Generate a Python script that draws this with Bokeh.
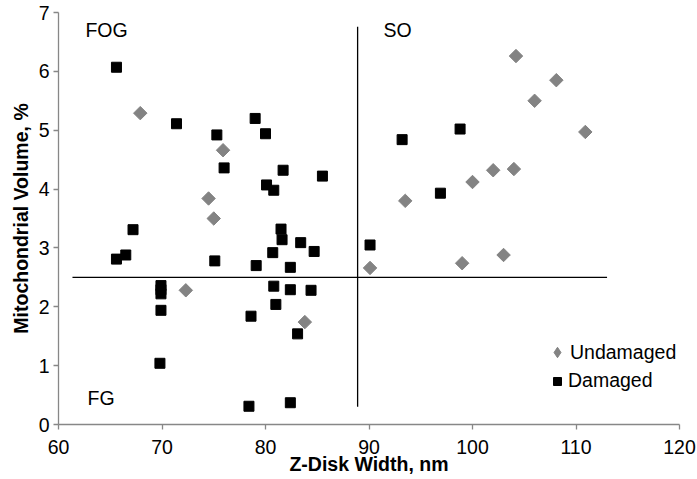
import numpy as np
from bokeh.plotting import figure
from bokeh.models import Range1d, Legend, LegendItem, FixedTicker
from bokeh.embed import file_html
from bokeh.resources import INLINE
from bokeh.core.properties import value

# ---- data ----
x_ticks = [60, 70, 80, 90, 100, 110, 120]
y_ticks = [0, 1, 2, 3, 4, 5, 6, 7]

dam_x = [65.6, 71.4, 75.3, 76.0, 79.0, 80.0, 81.7, 80.1, 80.8, 85.5, 67.2, 81.5, 81.6,
         83.4, 84.7, 80.7, 82.4, 79.1, 75.1, 65.6, 66.5, 69.9, 69.9, 69.9, 69.9, 69.8,
         80.8, 82.4, 84.4, 81.0, 78.6, 83.1, 78.4, 82.4, 93.2, 98.8, 96.9, 90.1]
dam_y = [6.07, 5.11, 4.92, 4.36, 5.20, 4.94, 4.32, 4.07, 3.98, 4.22, 3.31, 3.32, 3.14,
         3.09, 2.94, 2.92, 2.67, 2.70, 2.78, 2.81, 2.88, 2.36, 2.29, 2.22, 1.94, 1.04,
         2.35, 2.29, 2.28, 2.04, 1.84, 1.54, 0.31, 0.37, 4.84, 5.02, 3.93, 3.05]

und_x = [67.9, 75.9, 74.5, 75.0, 72.3, 83.8, 104.2, 108.1, 106.0, 110.9, 102.0, 104.0,
         100.0, 93.5, 90.1, 99.0, 103.0]
und_y = [5.29, 4.66, 3.84, 3.50, 2.28, 1.74, 6.26, 5.85, 5.50, 4.97, 4.32, 4.34,
         4.12, 3.80, 2.66, 2.74, 2.88]

# quadrant divider lines
vline_x = [88.9, 88.9]
vline_y = [0.3, 6.76]
hline_x = [61.35, 113.0]
hline_y = [2.5, 2.5]

# quadrant labels
quad_text = ["FOG", "SO", "FG"]
quad_x = [62.6, 91.4, 62.8]
quad_y = [6.70, 6.70, 0.45]

FONT = "Liberation Sans"
AXIS_GRAY = "#878787"
UND_GRAY = "#838383"

p = figure(width=697, height=479, output_backend="svg", toolbar_location=None,
           x_range=Range1d(60, 120), y_range=Range1d(0, 7),
           min_border_top=12, min_border_bottom=55, min_border_left=58, min_border_right=18)

p.outline_line_color = None
p.xgrid.visible = False
p.ygrid.visible = False
p.background_fill_color = "white"

p.xaxis.ticker = FixedTicker(ticks=x_ticks)
p.yaxis.ticker = FixedTicker(ticks=y_ticks)

for ax in (p.xaxis, p.yaxis):
    ax.axis_line_color = AXIS_GRAY
    ax.axis_line_width = 1.3
    ax.major_tick_line_color = AXIS_GRAY
    ax.major_tick_line_width = 1.3
    ax.major_tick_out = 5
    ax.major_tick_in = 0
    ax.minor_tick_line_color = None
    ax.major_label_text_font = FONT
    ax.major_label_text_font_size = "19.5px"
    ax.major_label_text_color = "black"
    ax.axis_label_text_font = FONT
    ax.axis_label_text_font_size = "19.5px"
    ax.axis_label_text_font_style = "bold"
    ax.axis_label_text_color = "black"

p.xaxis.axis_label = "Z-Disk Width, nm"
p.yaxis.axis_label = "Mitochondrial Volume, %"
p.xaxis.major_label_standoff = 10
p.xaxis.axis_label_standoff = -4
p.yaxis.major_label_standoff = 4
p.yaxis.axis_label_standoff = 4

p.line(x=vline_x, y=vline_y, line_color="black", line_width=1.3)
p.line(x=hline_x, y=hline_y, line_color="black", line_width=1.3)

r_und = p.scatter(x=und_x, y=und_y, marker="square", angle=np.pi / 4, size=9.5,
                  fill_color=UND_GRAY, line_color=UND_GRAY)
r_dam = p.scatter(x=dam_x, y=dam_y, marker="square", size=10,
                  fill_color="black", line_color="black")

# hidden twin of the undamaged series, used only for its legend symbol
# (the legend ignores a glyph's angle, so a diamond marker is used there)
r_und_leg = p.scatter(x=und_x, y=und_y, marker="diamond", size=10,
                      fill_color=UND_GRAY, line_color=UND_GRAY, visible=False)

p.text(x=quad_x, y=quad_y, text=quad_text, text_font=value(FONT),
       text_font_size="19.5px", text_baseline="middle", text_align="left",
       text_color="black")


def make_legend(label, renderer, glyph, loc, standoff):
    lg = Legend(items=[LegendItem(label=label, renderers=[renderer])],
                location=loc, orientation="vertical")
    lg.label_text_font = FONT
    lg.label_text_font_size = "19.5px"
    lg.label_text_color = "black"
    lg.glyph_width = glyph
    lg.glyph_height = glyph
    lg.label_height = glyph
    lg.label_standoff = standoff
    lg.padding = 0
    lg.margin = 0
    lg.spacing = 0
    lg.border_line_color = None
    lg.background_fill_alpha = 0
    return lg


p.add_layout(make_legend("Undamaged", r_und_leg, 26, (486, 59), -2), "center")
p.add_layout(make_legend("Damaged", r_dam, 20, (489, 32), 1), "center")

open("out.html", "w").write(file_html(p, INLINE))
